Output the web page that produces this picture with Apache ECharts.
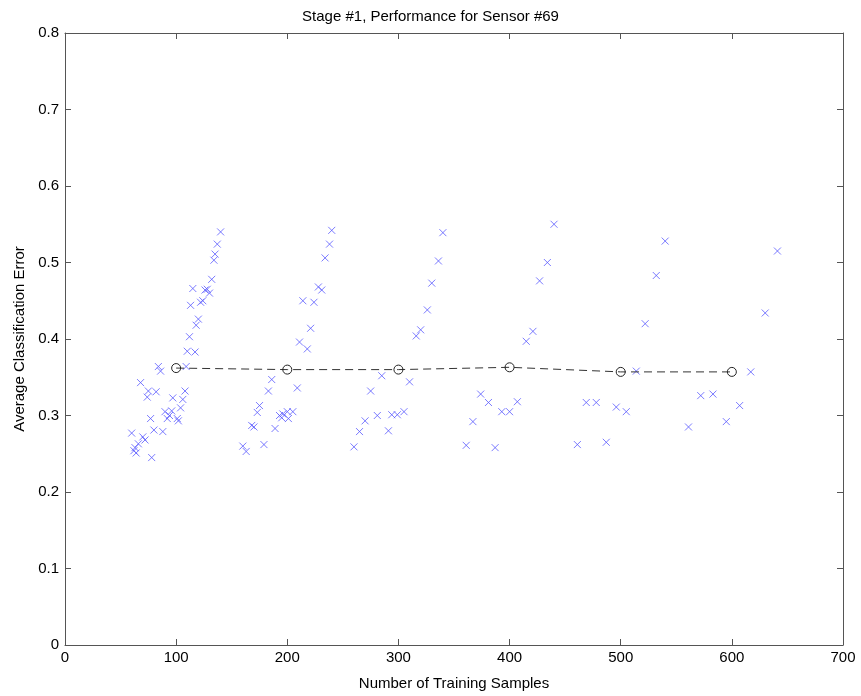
<!DOCTYPE html>
<html>
<head>
<meta charset="utf-8">
<script src="https://cdn.jsdelivr.net/npm/echarts@6/dist/echarts.min.js"></script>
<style>
  html, body { margin: 0; padding: 0; background: #fff; }
  #chart { width: 861px; height: 696px; }
</style>
</head>
<body>
<div id="chart"></div>
<script>
// samples per run (x) and their average classification error (y)
const sampleX = [
  60, 62, 63, 64, 66, 68, 70, 72, 74, 75, 77, 78, 80, 82, 84, 86, 88,
  90, 92, 94, 96, 97, 101, 102, 104, 106, 108, 109, 110, 112, 113, 115, 117, 118,
  120, 122, 124, 126, 128, 130, 132, 134, 135, 137, 140,
  160, 163, 168, 170, 173, 175, 179, 183, 186, 189, 193, 195, 196, 200, 201, 205,
  209, 211, 214, 218, 221, 224, 228, 231, 234, 238, 240,
  260, 265, 270, 275, 281, 285, 291, 294, 299, 305, 310, 316, 320, 326, 330, 336, 340,
  361, 367, 374, 381, 387, 393, 400, 407, 415, 421, 427, 434, 440,
  461, 469, 478, 487, 496, 505, 514, 522, 532, 540,
  561, 572, 583, 595, 607, 617, 630, 641
];
const errorY = [
  0.277, 0.254, 0.258, 0.251, 0.263, 0.343, 0.272, 0.268, 0.324, 0.332, 0.296, 0.245, 0.281, 0.331, 0.364, 0.358, 0.279,
  0.305, 0.296, 0.300, 0.306, 0.323, 0.296, 0.293, 0.310, 0.321, 0.332, 0.364, 0.384, 0.403, 0.444, 0.466, 0.383, 0.418,
  0.426, 0.448, 0.450, 0.464, 0.465, 0.460, 0.478, 0.503, 0.511, 0.524, 0.540,
  0.260, 0.253, 0.287, 0.285, 0.304, 0.313, 0.262, 0.332, 0.347, 0.283, 0.300, 0.297, 0.302, 0.305, 0.296, 0.305,
  0.336, 0.396, 0.450, 0.387, 0.414, 0.448, 0.468, 0.464, 0.506, 0.524, 0.542,
  0.259, 0.279, 0.293, 0.332, 0.300, 0.352, 0.280, 0.301, 0.301, 0.305, 0.344, 0.404, 0.412, 0.438, 0.473, 0.502, 0.539,
  0.261, 0.292, 0.328, 0.317, 0.258, 0.305, 0.305, 0.318, 0.397, 0.410, 0.476, 0.500, 0.550,
  0.262, 0.317, 0.317, 0.265, 0.311, 0.305, 0.358, 0.420, 0.483, 0.528,
  0.285, 0.326, 0.328, 0.292, 0.313, 0.357, 0.434, 0.515
];
// averaged curve
const meanX = [100, 200, 300, 400, 500, 600];
const meanY = [0.362, 0.360, 0.360, 0.363, 0.357, 0.357];

const crossPath = 'path://M0,0L10,10M10,0L0,10';
const font = 'Liberation Sans, Arial, sans-serif';
const axisColor = '#555';

const chart = echarts.init(document.getElementById('chart'));

const axisCommon = {
  axisLine: { show: true, onZero: false, lineStyle: { color: axisColor, width: 1 } },
  axisTick: { show: true, inside: true, length: 6, lineStyle: { color: axisColor } },
  splitLine: { show: false }
};

chart.setOption({
  animation: false,
  backgroundColor: '#fff',
  title: {
    text: 'Stage #1, Performance for Sensor #69',
    left: 'center',
    top: 4,
    textStyle: { fontFamily: font, fontSize: 15, fontWeight: 'normal', color: '#000' }
  },
  grid: { left: 65, right: 18, top: 33, bottom: 49, show: false },
  xAxis: [
    Object.assign({}, axisCommon, {
      type: 'value', min: 0, max: 700, interval: 100, position: 'bottom',
      name: 'Number of Training Samples', nameLocation: 'middle', nameGap: 31,
      nameTextStyle: { fontFamily: font, fontSize: 15, color: '#000' },
      axisLabel: { fontFamily: font, fontSize: 15, color: '#000', margin: 5 }
    }),
    Object.assign({}, axisCommon, {
      type: 'value', min: 0, max: 700, interval: 100, position: 'top',
      axisLabel: { show: false }
    })
  ],
  yAxis: [
    Object.assign({}, axisCommon, {
      type: 'value', min: 0, max: 0.8, interval: 0.1, position: 'left',
      name: 'Average Classification Error', nameLocation: 'middle', nameGap: 38,
      nameTextStyle: { fontFamily: font, fontSize: 15, color: '#000' },
      axisLabel: {
        fontFamily: font, fontSize: 15, color: '#000', margin: 6,
        formatter: v => (v === 0 ? '0' : v.toFixed(1))
      }
    }),
    Object.assign({}, axisCommon, {
      type: 'value', min: 0, max: 0.8, interval: 0.1, position: 'right',
      axisLabel: { show: false }
    })
  ],
  series: [
    {
      type: 'scatter',
      data: sampleX.map((x, i) => [x, errorY[i]]),
      symbol: crossPath,
      symbolSize: 7,
      itemStyle: { color: 'rgba(0,0,0,0)', borderColor: '#5a5aff', borderWidth: 1 },
      z: 2
    },
    {
      type: 'line',
      data: meanX.map((x, i) => [x, meanY[i]]),
      symbol: 'circle',
      symbolSize: 9,
      showSymbol: true,
      lineStyle: { color: '#333', width: 1, type: [8, 5] },
      itemStyle: { color: 'rgba(255,255,255,0)', borderColor: '#222', borderWidth: 1 },
      z: 3
    }
  ]
});
</script>
</body>
</html>
